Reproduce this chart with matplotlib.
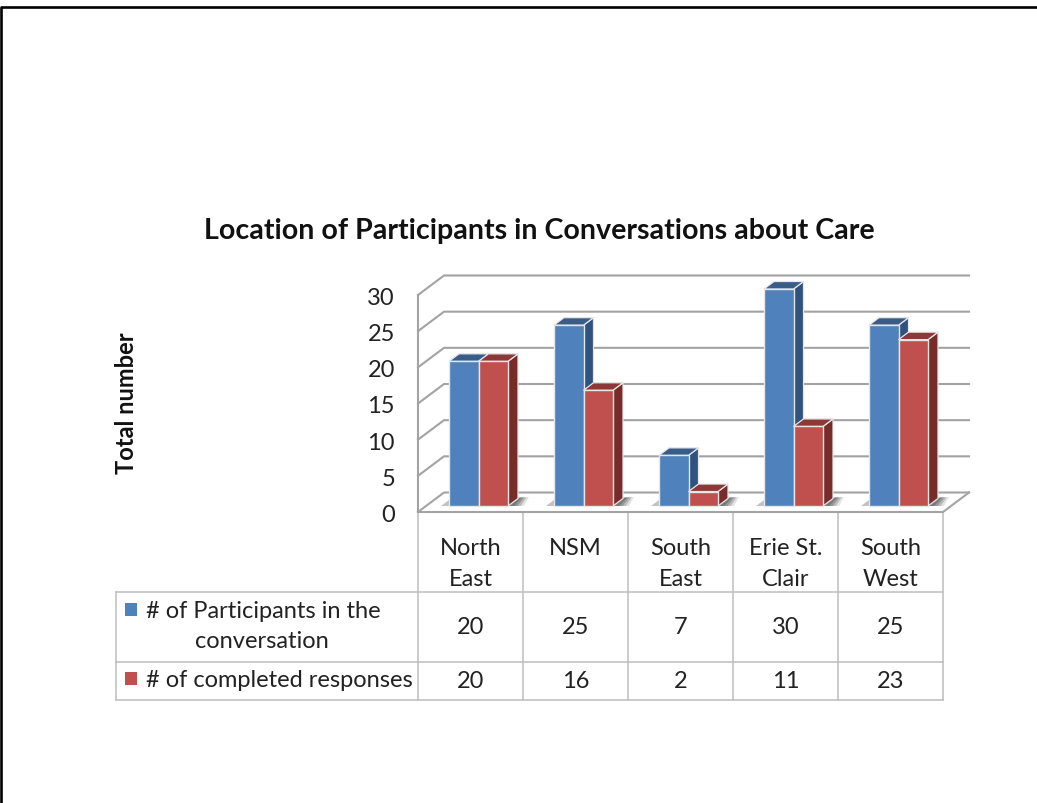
# grouped 3D-style bar chart with a data table underneath
import matplotlib
matplotlib.use('Agg')
import matplotlib.pyplot as plt
from matplotlib.patches import Polygon

plt.rcParams['font.family'] = ['Lato', 'DejaVu Sans']

categories = ['North\nEast', 'NSM', 'South\nEast', 'Erie St.\nClair', 'South\nWest']
participants = [20, 25, 7, 30, 25]
completed = [20, 16, 2, 11, 23]
series_names = ['# of Participants in the\nconversation', '# of completed responses']
y_ticks = [0, 5, 10, 15, 20, 25, 30]

W, H = 1037, 804
BLUE = ('#4F81BD', '#385D8A', '#2F527E')  # front, top, side
RED = ('#C0504D', '#8C3836', '#772C2A')
GRID = '#A3A3A3'
TEXT = '#222222'

fig = plt.figure(figsize=(W / 100, H / 100), dpi=100)

# page layer in pixels, y pointing down
page = fig.add_axes([0, 0, 1, 1])
page.set_xlim(0, W)
page.set_ylim(H - 1, -1)
page.axis('off')

# chart layer: x in categories, y in values
x0, x1 = 418, 943
y_base, y_top = 507, 290
ax = fig.add_axes([x0 / W, 1 - y_base / H, (x1 - x0) / W, (y_base - y_top) / H])
ax.set_xlim(0, 5)
ax.set_ylim(0, 30)
ax.axis('off')
ax.patch.set_alpha(0)

px = 5 / (x1 - x0)
py = 30 / (y_base - y_top)

# back wall and floor
floor_front = -6 * py
floor_back = 13.5 * py
dx_wall = 26 * px
for v in y_ticks:
    yb = v + floor_back
    yf = v + floor_front
    ax.plot([0, dx_wall, 5 + dx_wall], [yf, yb, yb], color=GRID, lw=1.5, clip_on=False, zorder=1)
ax.plot([0, 0], [floor_front, 30 + floor_front], color=GRID, lw=1.5, clip_on=False, zorder=1)
ax.plot([0, 5, 5 + dx_wall], [floor_front, floor_front, floor_back], color=GRID, lw=1.5, clip_on=False, zorder=1)


def shadow(left, right):
    # soft shadow on the floor, darker close to the bar
    for k, alpha in zip((1.0, 0.8, 0.6, 0.4), (0.15, 0.25, 0.3, 0.35)):
        ax.add_patch(Polygon([(right, 0), (right + 9 * px, 8 * py), (right + (10 + 11 * k) * px, 9 * py),
                              (right + 16 * k * px, 0)],
                             fc='#444444', ec='none', alpha=alpha, zorder=1.5, clip_on=False))
    ax.add_patch(Polygon([(left - 8 * px, 0), (left, 0), (left, 6 * py)],
                         fc='#777777', ec='none', alpha=0.45, zorder=1.5, clip_on=False))


def bar3d(left, width, value, colors, z):
    dx, dy = 10 * px, 7.5 * py
    front, top, side = colors
    edge = '#E6E6E6'
    ax.add_patch(Polygon([(left + width, 0), (left + width + dx, dy), (left + width + dx, value + dy),
                          (left + width, value)], fc=side, ec=edge, lw=0.9, zorder=z, clip_on=False))
    ax.add_patch(Polygon([(left, value), (left + dx, value + dy), (left + width + dx, value + dy),
                          (left + width, value)], fc=top, ec=edge, lw=0.9, zorder=z, clip_on=False))
    ax.bar(left, value, width, align='edge', color=front, edgecolor=edge, lw=1.0, zorder=z + 0.1, clip_on=False)


bar_w = 29.5 * px
start = 31 * px
for i in range(len(categories)):
    shadow(i + start, i + start + 2 * bar_w)
    bar3d(i + start, bar_w, participants[i], BLUE, 3 + i)
    bar3d(i + start + bar_w, bar_w, completed[i], RED, 3.5 + i)

# y tick labels sit against the front edge of the wall
for v in y_ticks:
    ax.text(-23 * px, v + floor_front - 2.5 * py, str(v), ha='right', va='center', fontsize=17, color=TEXT,
            clip_on=False)

# page border, open on the right
page.plot([1.2, 1.2, W], [H, 6.5, 6.5], color='black', lw=1.9)

page.text(539, 230, 'Location of Participants in Conversations about Care', ha='center', va='center',
          fontsize=20.6, fontweight='bold', color='#111111')
page.text(127, 402, 'Total number', rotation=90, ha='center', va='center', fontsize=17,
          fontweight='bold', color='#111111')

# data table
col_x = [418, 523, 628, 733, 838, 943]
rows_y = [592, 662, 700]
line_kw = dict(color='#BDBDBD', lw=1.1)
page.plot([418, 943], [512, 512], **line_kw)
for x in col_x:
    page.plot([x, x], [512, 700], **line_kw)
for y in rows_y:
    page.plot([116, 943], [y, y], **line_kw)
page.plot([116, 116], [592, 700], **line_kw)

for i in range(len(categories)):
    cx = (col_x[i] + col_x[i + 1]) / 2
    page.text(cx, 548, categories[i].split('\n')[0], ha='center', va='center', fontsize=17, color=TEXT)
    if '\n' in categories[i]:
        page.text(cx, 579, categories[i].split('\n')[1], ha='center', va='center', fontsize=17, color=TEXT)
    page.text(cx, 627, str(participants[i]), ha='center', va='center', fontsize=17, color=TEXT)
    page.text(cx, 681, str(completed[i]), ha='center', va='center', fontsize=17, color=TEXT)

# legend keys live in the row headers
page.add_patch(plt.Rectangle((125, 603), 12, 13, fc=BLUE[0], ec='none'))
page.add_patch(plt.Rectangle((125, 672), 12, 13, fc=RED[0], ec='none'))
first, second = series_names[0].split('\n')
page.text(146, 611, first, ha='left', va='center', fontsize=17, color=TEXT)
page.text(262, 641, second, ha='center', va='center', fontsize=17, color=TEXT)
page.text(146, 680, series_names[1], ha='left', va='center', fontsize=17, color=TEXT)

fig.savefig('out.png', dpi=100, facecolor='white')
